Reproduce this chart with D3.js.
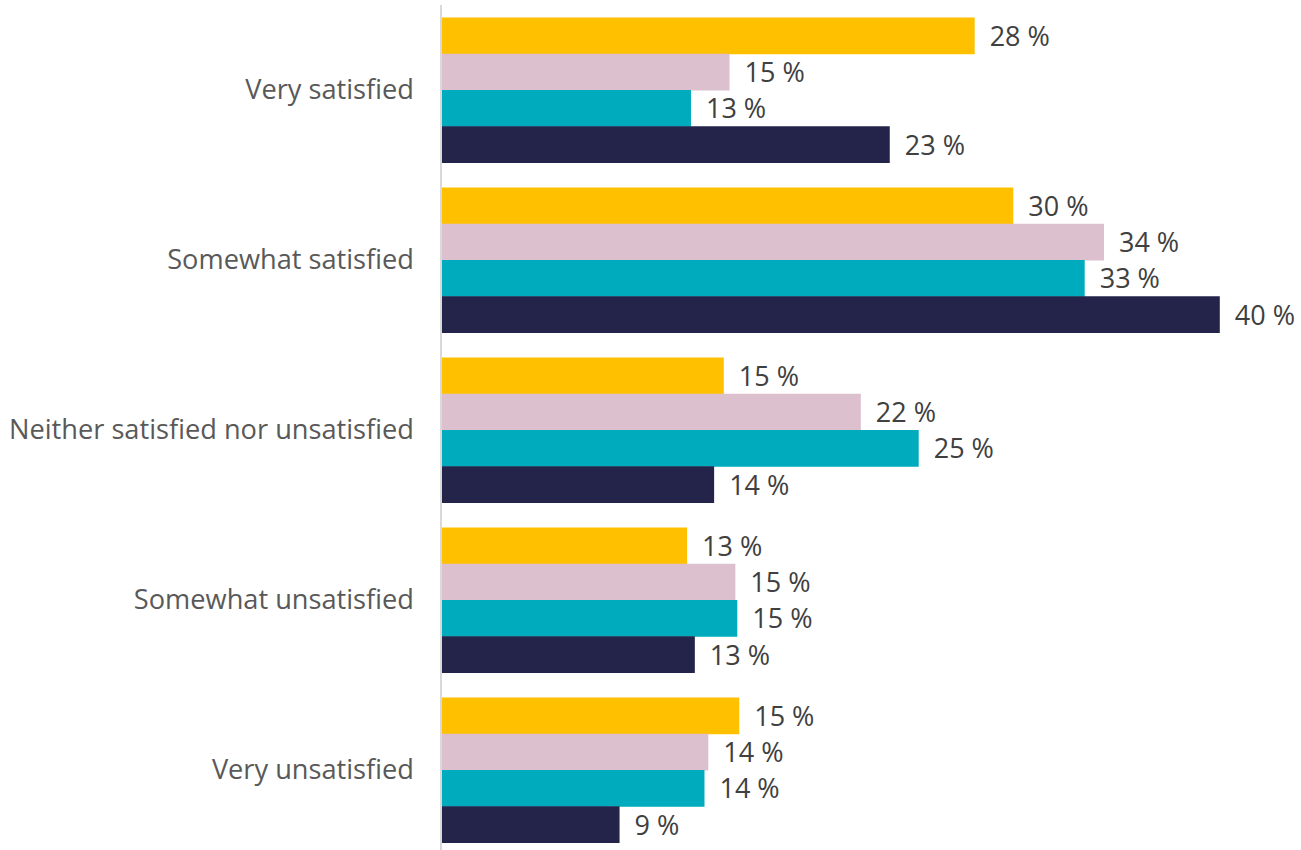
<!DOCTYPE html>
<html>
<head>
<meta charset="utf-8">
<script src="https://cdn.jsdelivr.net/npm/d3@7"></script>
<style>
    body { margin: 0; background: #fff; }
    svg { display: block; font-family: "Open Sans", sans-serif; }
    .cat-label { fill: #595959; font-size: 27.2px; }
    .val-label { fill: #404040; font-size: 27px; }
</style>
</head>
<body>
<svg id="chart"></svg>
<script>
const WIDTH = 1301;
const HEIGHT = 850;
const AXIS_X = 441;
const PX_PER_PCT = 19.3;

const CATEGORIES = [
    "Very satisfied",
    "Somewhat satisfied",
    "Neither satisfied nor unsatisfied",
    "Somewhat unsatisfied",
    "Very unsatisfied"
];
const SERIES = ["Series 1", "Series 2", "Series 3", "Series 4"];
const COLORS = ["#FFC000", "#DCC0CE", "#00ABBE", "#24244A"];

// values per series, in category order
const SERIES_1 = [27.6, 29.6, 14.6, 12.7, 15.4];
const SERIES_2 = [14.9, 34.3, 21.7, 15.2, 13.8];
const SERIES_3 = [12.9, 33.3, 24.7, 15.3, 13.6];
const SERIES_4 = [23.2, 40.3, 14.1, 13.1, 9.2];
const VALUES = [SERIES_1, SERIES_2, SERIES_3, SERIES_4];

const svg = d3.select("#chart")
    .attr("width", WIDTH)
    .attr("height", HEIGHT);

const y = d3.scaleBand()
    .domain(CATEGORIES)
    .range([5, 855])
    .paddingInner(0.147)
    .paddingOuter(0.0735);

const ySub = d3.scaleBand()
    .domain(SERIES)
    .range([0, y.bandwidth()]);

const x = d3.scaleLinear()
    .domain([0, 1])
    .range([AXIS_X, AXIS_X + PX_PER_PCT]);

const rows = [];
CATEGORIES.forEach((cat, ci) => {
    SERIES.forEach((s, si) => {
        rows.push({ cat, series: s, si, value: VALUES[si][ci] });
    });
});

svg.selectAll("rect.bar")
    .data(rows)
    .join("rect")
    .attr("class", "bar")
    .attr("x", x(0) + 1)
    .attr("y", d => y(d.cat) + ySub(d.series))
    .attr("width", d => x(d.value) - x(0))
    .attr("height", ySub.bandwidth() + 0.5)
    .attr("fill", d => COLORS[d.si]);

svg.selectAll("text.val-label")
    .data(rows)
    .join("text")
    .attr("class", "val-label")
    .attr("x", d => x(d.value) + 16)
    .attr("y", d => y(d.cat) + ySub(d.series) + ySub.bandwidth() / 2 + 3)
    .attr("dominant-baseline", "middle")
    .text(d => `${Math.round(d.value)} %`);

// vertical axis line
svg.append("line")
    .attr("x1", AXIS_X)
    .attr("x2", AXIS_X)
    .attr("y1", 5)
    .attr("y2", HEIGHT)
    .attr("stroke", "#d9d9d9")
    .attr("stroke-width", 2);

svg.selectAll("text.cat-label")
    .data(CATEGORIES)
    .join("text")
    .attr("class", "cat-label")
    .attr("x", AXIS_X - 27)
    .attr("y", d => y(d) + y.bandwidth() / 2 + 2)
    .attr("text-anchor", "end")
    .attr("dominant-baseline", "middle")
    .text(d => d);
</script>
</body>
</html>
